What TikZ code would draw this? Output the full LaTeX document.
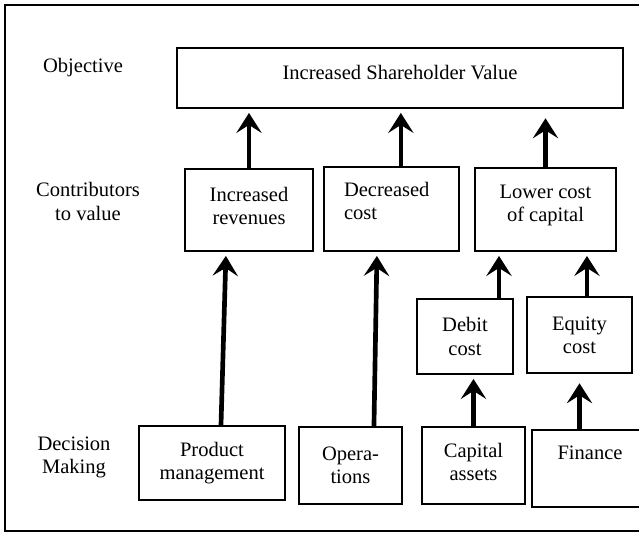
\documentclass[tikz,border=0pt]{standalone}
\usepackage{fontspec}
\setmainfont{Liberation Serif}
\usetikzlibrary{arrows.meta}
\tikzset{
block/.style={
	  draw, line width=1.4pt, align=center, inner sep=2pt},
rowlabel/.style={align=center},
upline/.style={
	  line width=3.5pt, -{Stealth[length=15pt,width=19pt,inset=6pt]}, shorten >=3pt}
}

\begin{document}
\begin{tikzpicture}[x=0.75pt, y=-0.75pt, font=\fontsize{15.4}{17.3}\selectfont]
	\clip (0,0) rectangle (639,533);
	\draw[line width=1.8pt] (660,5) -- (5,5) -- (5,531) -- (660,531);

	\node[rowlabel] (objective) at (83,68) {Objective};
	\node[rowlabel] (contrib) at (88,201.5) {Contributors\\to value};
	\node[rowlabel] (decision) at (74,457.5) {Decision\\Making};

	\node[block, minimum width=334.5pt, minimum height=45pt, text depth=9pt] (goal) at (400,78) {Increased Shareholder Value};

	\node[block, minimum width=96pt, minimum height=61.5pt, text depth=6.75pt] (increv) at (249,210) {Increased\\revenues};
	\node[block, minimum width=101.25pt, minimum height=63pt, text width=71.25pt, inner xsep=15pt, align=left, text depth=29pt] (deccost) at (391.5,209) {Decreased\\cost};
	\node[block, minimum width=105.75pt, minimum height=62.25pt, text depth=8.7pt] (lowcap) at (545.5,209.5) {Lower cost\\of capital};

	\node[block, minimum width=72pt, minimum height=56.25pt] (debit) at (465,336.5) {Debit\\cost};
	\node[block, minimum width=78.75pt, minimum height=57pt] (equity) at (579.5,335) {Equity\\cost};

	\node[block, minimum width=109.5pt, minimum height=55.5pt] (product) at (212,463) {Product\\management};
	\node[block, minimum width=77.25pt, minimum height=57.75pt] (operations) at (350.5,465.5) {Opera-\\tions};
	\node[block, minimum width=77.25pt, minimum height=57.75pt, text depth=6pt] (capital) at (473.5,465.5) {Capital\\assets};
	\node[block, minimum width=87pt, minimum height=57.75pt, text depth=6pt] (finance) at (590,468.5) {Finance\\\mbox{}};

	% contributors up to the objective
	\draw[upline] (increv.north) -- (increv.north |- goal.south);
	\draw[upline] ([xshift=7pt]deccost.north) -- ([xshift=7pt]deccost.north |- goal.south);
	\draw[upline, shorten >=7pt] (lowcap.north) -- (lowcap.north |- goal.south);

	% decisions up to the contributors
	\draw[upline] ([xshift=6.75pt]product.north) -- ([xshift=-17.25pt]increv.south);
	\draw[upline] ([xshift=17.6pt]operations.north) -- ([xshift=-10.9pt]deccost.south);
	\draw[upline] ([xshift=25.5pt]debit.north) -- ([xshift=25.5pt]debit.north |- lowcap.south);
	\draw[upline] ([xshift=5.6pt]equity.north) -- ([xshift=5.6pt]equity.north |- lowcap.south);
	\draw[upline] (capital.north) -- (capital.north |- debit.south);
	\draw[upline, shorten >=7pt] (equity.south |- finance.north) -- (equity.south);
\end{tikzpicture}
\end{document}
